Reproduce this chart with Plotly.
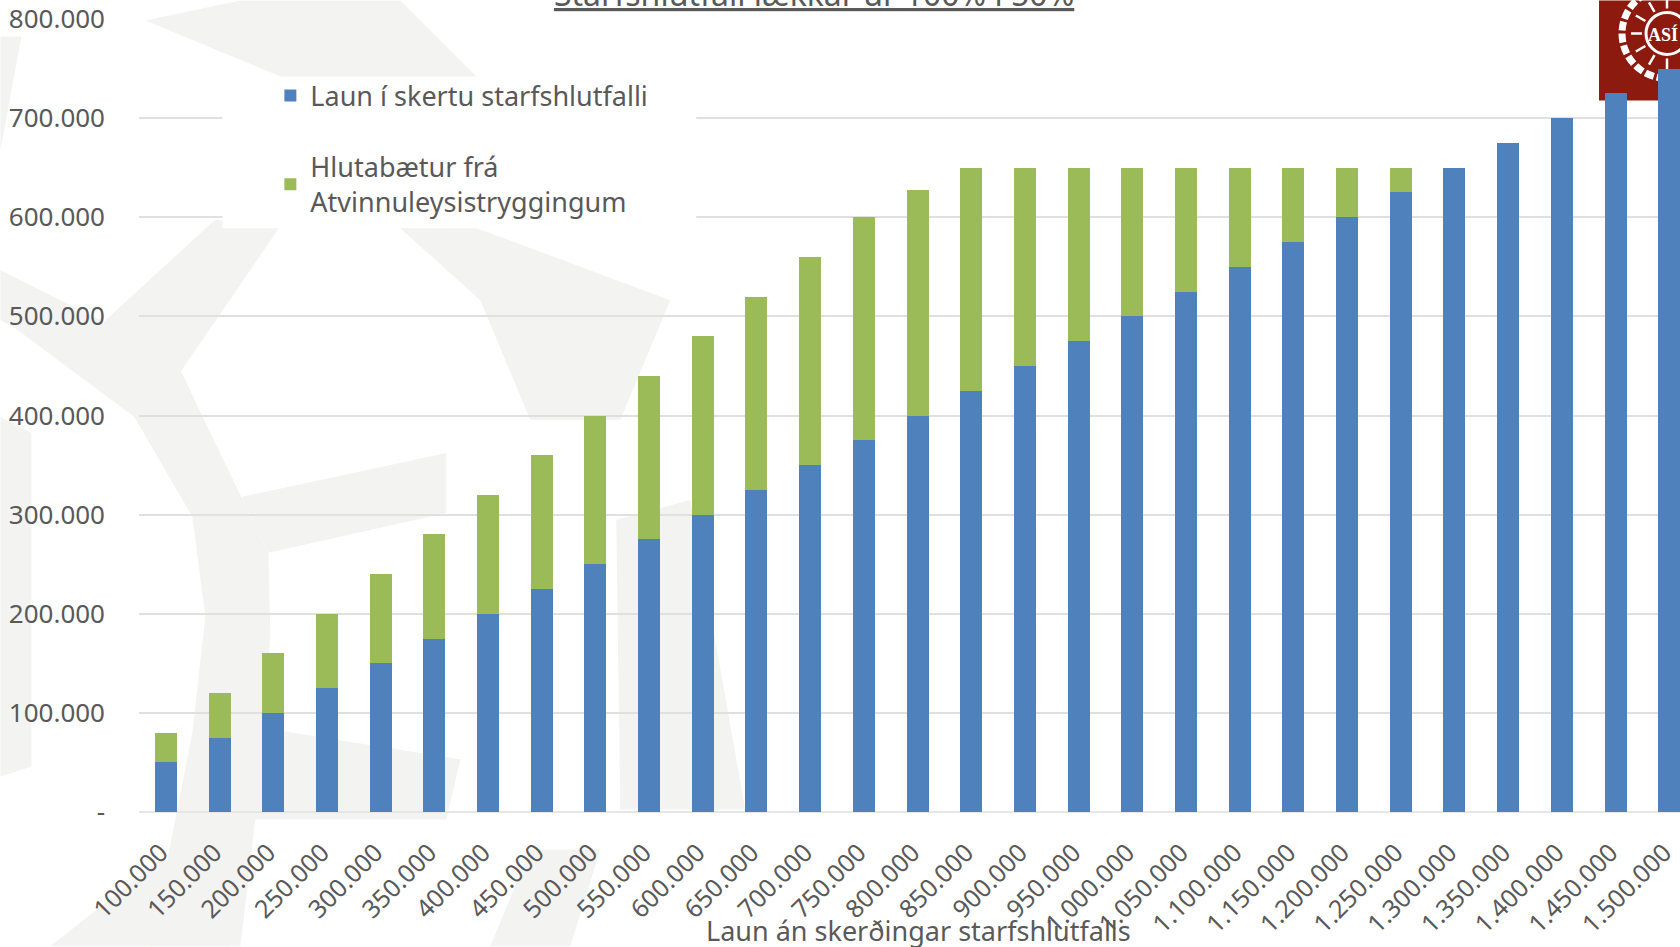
import math
import plotly.graph_objects as go

categories = ["100.000","150.000","200.000","250.000","300.000","350.000","400.000","450.000","500.000","550.000",
              "600.000","650.000","700.000","750.000","800.000","850.000","900.000","950.000","1.000.000","1.050.000",
              "1.100.000","1.150.000","1.200.000","1.250.000","1.300.000","1.350.000","1.400.000","1.450.000","1.500.000"]
laun = [50000,75000,100000,125000,150000,175000,200000,225000,250000,275000,300000,325000,350000,375000,400000,
        425000,450000,475000,500000,525000,550000,575000,600000,625000,650000,675000,700000,725000,750000]
hlutabaetur = [30000,45000,60000,75000,90000,105000,120000,135000,150000,165000,180000,195000,210000,225000,228000,
               225000,200000,175000,150000,125000,100000,75000,50000,25000,0,0,0,0,0]
y_ticks = [0,100000,200000,300000,400000,500000,600000,700000,800000]
y_labels = ["-","100.000","200.000","300.000","400.000","500.000","600.000","700.000","800.000"]

W, H = 1680, 947
L, T, B = 138.6, 18.5, 134.5
PW, PH = W - L, H - T - B
FONT = "Noto Sans"
TXT = "#595959"
WM = "#f3f3f1"

def px(x): return (x - L) / PW
def py(y): return 1 - (y - T) / PH

def poly(points, color=WM, layer="below"):
    d = "M" + "L".join(f"{px(x):.5f},{py(y):.5f}" for x, y in points) + "Z"
    return dict(type="path", xref="paper", yref="paper", path=d, fillcolor=color, line_width=0, layer=layer)

watermark = [
    [(13,327),(134,417),(192,517),(205,617),(192,733),(150,947),(240,947),(262,760),(270,633),(268,553),(210,433),(180,370),(100,320),(0,270),(0,320)],
    [(240,0),(400,0),(480,80),(290,80),(145,20)],
    [(100,325),(214,220),(284,220),(180,372)],
    [(391,220),(455,220),(670,300),(620,420),(530,420),(480,300)],
    [(241,497),(446,453),(446,513),(268,553)],
    [(254,727),(460,760),(446,820),(178,820)],
    [(0,417),(31,433),(31,767),(0,777)],
    [(0,36),(21,36),(0,150)],
    [(616,520),(690,500),(745,810),(620,810)],
    [(50,947),(160,860),(230,860),(230,947)],
    [(490,947),(530,850),(600,850),(570,947)],
]

shapes = [poly(p) for p in watermark]
# company mark in the top-right corner
RED = "#8c1a0e"
CX, CY = 1667, 33
shapes.append(poly([(1599,0),(1680,0),(1680,100),(1599,100)], RED))
def circle(cx, cy, r, **kw):
    return dict(type="circle", xref="paper", yref="paper", x0=px(cx-r), x1=px(cx+r), y0=py(cy+r), y1=py(cy-r), layer="below", **kw)
shapes.append(circle(CX, CY, 45, line=dict(color="white", width=7, dash="9px,3px")))
shapes.append(circle(CX, CY, 21, line=dict(color="white", width=3)))
for deg in (90, 120, 150, 180, 210, 240, 270):
    a = math.radians(deg)
    shapes.append(dict(type="line", xref="paper", yref="paper",
                       x0=px(CX + 25*math.cos(a)), y0=py(CY + 25*math.sin(a)),
                       x1=px(CX + 36*math.cos(a)), y1=py(CY + 36*math.sin(a)),
                       line=dict(color="white", width=2.5), layer="below"))
# white panel behind the legend
shapes.append(poly([(222,76),(696,76),(696,228),(222,228)], "#ffffff", "above"))

fig = go.Figure()
fig.add_bar(x=categories, y=laun, name="Laun í skertu starfshlutfalli", marker_color="#4f81bd", marker_line_width=0, legendgroup="a")
fig.add_bar(x=categories, y=hlutabaetur, name="Hlutabætur frá<br>Atvinnuleysistryggingum", marker_color="#9bbb59", marker_line_width=0, legendgroup="b")

fig.update_layout(
    width=W, height=H, barmode="stack", bargap=0.59,
    margin=dict(l=L, r=0, t=T, b=B),
    paper_bgcolor="white", plot_bgcolor="rgba(0,0,0,0)",
    font=dict(family=FONT, color=TXT, size=24),
    shapes=shapes,
    legend=dict(x=px(270), y=py(71), xanchor="left", yanchor="top", bgcolor="rgba(0,0,0,0)",
                font=dict(size=27, color=TXT, family=FONT), tracegroupgap=33, traceorder="grouped"),
    xaxis=dict(type="category", categoryorder="array", categoryarray=categories, range=[-0.5, 28.2],
               tickangle=-45, tickfont=dict(size=25, color=TXT), ticks="", showgrid=False,
               showline=False, zeroline=False, automargin=False, ticklabelstandoff=20, ticklabelshift=-5,
               ticklabeloverflow="allow"),
    yaxis=dict(range=[0,800000], tickvals=y_ticks, ticktext=y_labels, tickfont=dict(size=26, color=TXT),
               gridcolor="#e0e0e0", gridwidth=2, zeroline=True, zerolinecolor="#e6e6e6", zerolinewidth=2,
               showline=False, ticks="", ticklabelstandoff=33, automargin=False),
    annotations=[
        dict(text="<u>Starfshlutfall lækkar úr 100% í 50%</u>", xref="paper", yref="paper", x=px(814), y=py(15),
             xanchor="center", yanchor="bottom", showarrow=False, borderpad=0, font=dict(size=32, color=TXT, family=FONT)),
        dict(text="Laun án skerðingar starfshlutfalls", xref="paper", yref="paper", x=px(918), y=py(931),
             xanchor="center", yanchor="middle", showarrow=False, font=dict(size=27, color=TXT, family=FONT)),
        dict(text="<b>ASÍ</b>", xref="paper", yref="paper", x=px(1663), y=py(34),
             xanchor="center", yanchor="middle", showarrow=False, font=dict(size=18, color="white", family="Liberation Sans Narrow")),
    ],
)

fig.write_html("out.html", config=dict(displayModeBar=False),
               post_script="document.body.style.margin='0';document.body.style.overflow='hidden';")
